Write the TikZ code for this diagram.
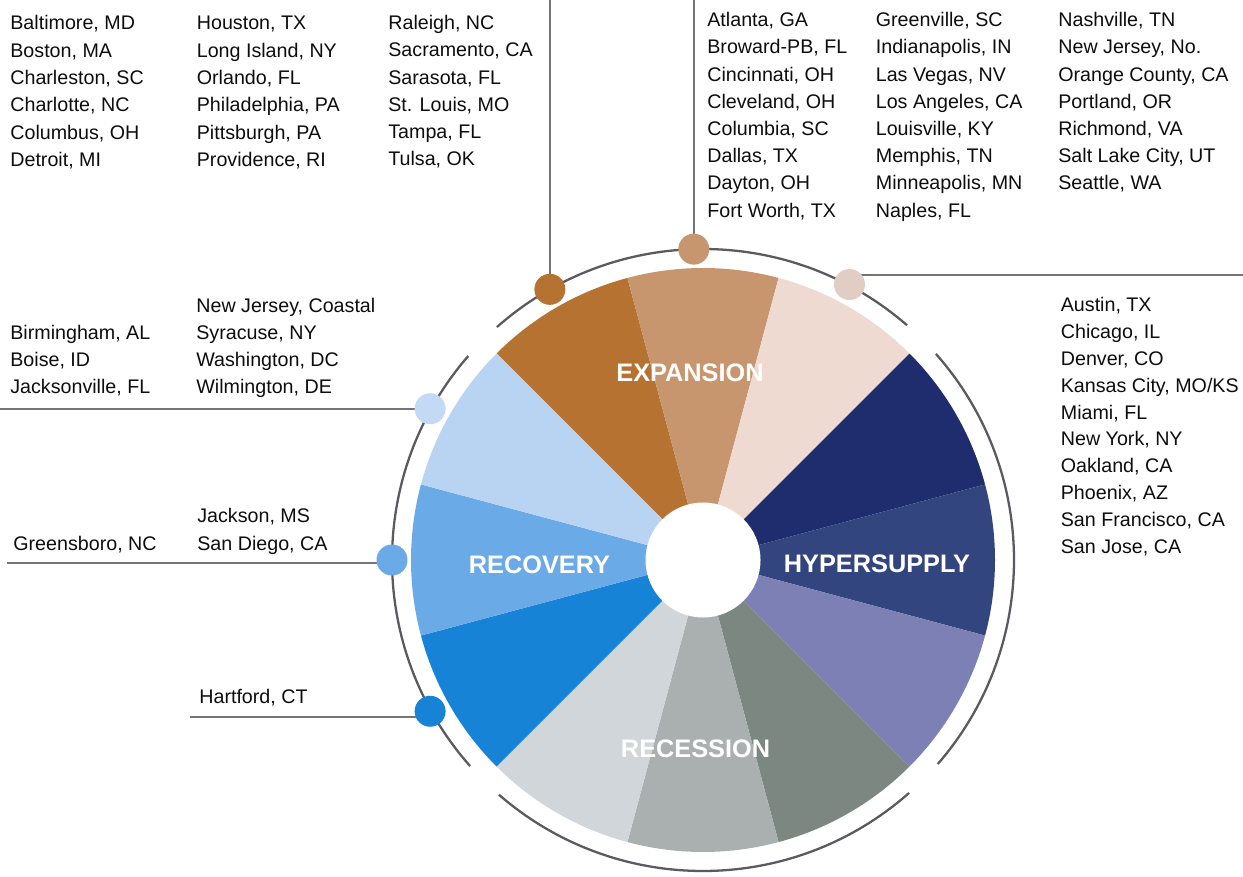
\documentclass[tikz,border=0pt]{standalone}
\usepackage{fontspec}
\setmainfont{Liberation Sans}
\usetikzlibrary{positioning}

\definecolor{exA}{HTML}{B57231}
\definecolor{exB}{HTML}{C8966E}
\definecolor{exC}{HTML}{EEDAD0}
\definecolor{hyA}{HTML}{1F2C6E}
\definecolor{hyB}{HTML}{33457F}
\definecolor{hyC}{HTML}{7C80B4}
\definecolor{reA}{HTML}{7D8782}
\definecolor{reB}{HTML}{AAB0B0}
\definecolor{reC}{HTML}{D0D6DA}
\definecolor{rcA}{HTML}{1683D6}
\definecolor{rcB}{HTML}{6AAAE6}
\definecolor{rcC}{HTML}{B9D4F2}
\definecolor{ringgray}{HTML}{5A5A60}

\tikzset{
  city/.style={anchor=base west, inner sep=0pt, text=black!95,
    font=\fontsize{11.2}{13}\selectfont},
  phase/.style={inner sep=0pt, text=white,
    font=\fontsize{14.4}{16}\selectfont\bfseries},
  dot/.style={circle, inner sep=0pt, minimum size=0.62cm},
  lead/.style={draw=ringgray!85, line width=1.1pt},
  ring/.style={draw=ringgray, line width=1.3pt}
}

\begin{document}
\begin{tikzpicture}[x=0.02cm, y=0.02cm]
\useasboundingbox (0,0) rectangle (1243,876);
\coordinate (hub) at (703,316);

% wheel
\foreach \c [count=\i] in {exA,exB,exC,hyA,hyB,hyC,reA,reB,reC,rcA,rcB,rcC}
  \fill[\c] (hub) -- ([shift={(165-30*\i:292)}]hub)
    arc[start angle=165-30*\i, end angle=135-30*\i, radius=292] -- cycle;
\fill[white] (hub) circle[radius=57.5];

\node[phase] (expansion) at (690,503.5) {EXPANSION};
\node[phase] (hypersupply) at (877,312) {HYPERSUPPLY};
\node[phase] (recession) at (695.5,127.3) {RECESSION};
\node[phase] (recovery) at (539.5,311) {RECOVERY};

% outer ring, open at the phase borders
\foreach \a in {49,139,229,319}
  \draw[ring] ([shift={(\a:311)}]hub) arc[start angle=\a, end angle=\a+82.5, radius=311];

% markers
\coordinate (top) at (0,876);
\coordinate (ex3end) at (1243,601);
\coordinate (rc1end) at (0,467.7);
\coordinate (rc2end) at (7,312.7);
\coordinate (rc3end) at (190,159.3);
\path (hub) ++(119.5:311) coordinate (ex1)
      (hub) ++(91.7:311) coordinate (ex2)
      (hub) ++(62:312) coordinate (ex3)
      (hub) ++(151:312) coordinate (rc1)
      (hub) ++(180:311) coordinate (rc2)
      (hub) ++(209:312) coordinate (rc3);
\path[lead] (ex1) edge (ex1 |- top)
  (ex2) edge (ex2 |- top)
  (ex3end -| ex3) edge (ex3end)
  (rc1) edge (rc1 -| rc1end)
  (rc2end) edge (rc2end -| rc2)
  (rc3end) edge (rc3end -| rc3);
\node[dot, fill=exA] (ex1dot) at (ex1) {};
\node[dot, fill=exB] (ex2dot) at (ex2) {};
\node[dot, fill=exC!94!black] (ex3dot) at (ex3) {};
\node[dot, fill=rcC!85!white] (rc1dot) at (rc1) {};
\node[dot, fill=rcB] (rc2dot) at (rc2) {};
\node[dot, fill=rcA] (rc3dot) at (rc3) {};

% city lists
\foreach \t [count=\i] in {{Baltimore, MD},{Boston, MA},{Charleston, SC},
  {Charlotte, NC},{Columbus, OH},{Detroit, MI}}
  \node[city] (bal\i) at (10,873.3-27.3*\i) {\t};
\foreach \t [count=\i] in {{Houston, TX},{Long Island, NY},{Orlando, FL},
  {Philadelphia, PA},{Pittsburgh, PA},{Providence, RI}}
  \node[city] (hou\i) at (196.5,873.3-27.3*\i) {\t};
\foreach \t [count=\i] in {{Raleigh, NC},{Sacramento, CA},{Sarasota, FL},
  {St. Louis, MO},{Tampa, FL},{Tulsa, OK}}
  \node[city] (ral\i) at (388,873.8-27.3*\i) {\t};

\foreach \t [count=\i] in {{Atlanta, GA},{Broward-PB, FL},{Cincinnati, OH},
  {Cleveland, OH},{Columbia, SC},{Dallas, TX},{Dayton, OH},{Fort Worth, TX}}
  \node[city] (atl\i) at (707,876.5-27.2*\i) {\t};
\foreach \t [count=\i] in {{Greenville, SC},{Indianapolis, IN},{Las Vegas, NV},
  {Los Angeles, CA},{Louisville, KY},{Memphis, TN},{Minneapolis, MN},{Naples, FL}}
  \node[city] (gre\i) at (875.5,876.5-27.2*\i) {\t};
\foreach \t [count=\i] in {{Nashville, TN},{New Jersey, No.},{Orange County, CA},
  {Portland, OR},{Richmond, VA},{Salt Lake City, UT},{Seattle, WA}}
  \node[city] (nas\i) at (1058,876.5-27.2*\i) {\t};

\foreach \t [count=\i] in {{Austin, TX},{Chicago, IL},{Denver, CO},
  {Kansas City, MO/KS},{Miami, FL},{New York, NY},{Oakland, CA},{Phoenix, AZ},
  {San Francisco, CA},{San Jose, CA}}
  \node[city] (aus\i) at (1060.5,590.8-26.8*\i) {\t};

\foreach \t [count=\i] in {{Birmingham, AL},{Boise, ID},{Jacksonville, FL}}
  \node[city] (bir\i) at (10,563-27*\i) {\t};
\foreach \t [count=\i] in {{New Jersey, Coastal},{Syracuse, NY},
  {Washington, DC},{Wilmington, DE}}
  \node[city] (njc\i) at (196,590-27*\i) {\t};

\node[city] (gsb) at (13,326) {Greensboro, NC};
\foreach \t [count=\i] in {{Jackson, MS},{San Diego, CA}}
  \node[city] (jac\i) at (197,381-27.5*\i) {\t};
\node[city] (har) at (199,173) {Hartford, CT};
\end{tikzpicture}
\end{document}
